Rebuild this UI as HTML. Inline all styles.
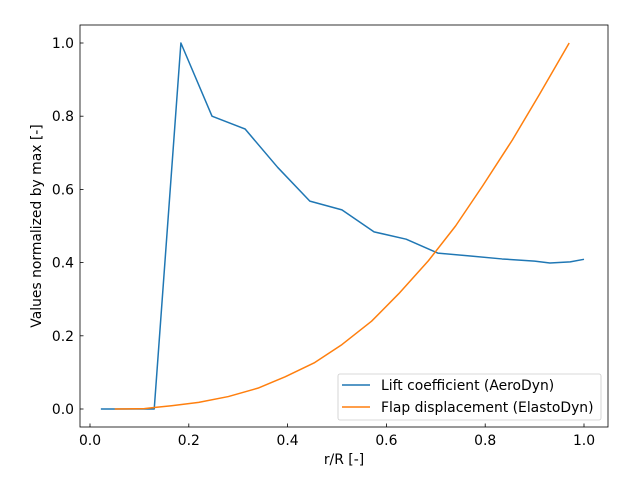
<!DOCTYPE html>
<html><head><meta charset="utf-8"><style>
body{margin:0;background:#fff}
svg{font-family:"DejaVu Sans","Liberation Sans",sans-serif}
</style></head><body>
<svg id="chart" width="640" height="480" viewBox="0 0 640 480" xmlns="http://www.w3.org/2000/svg">
<rect width="640" height="480" fill="#fff"/>
<g id="plot"></g>
</svg>
<script>
const liftX=[0.022,0.13,0.184,0.247,0.314,0.38,0.445,0.51,0.575,0.64,0.704,0.77,0.834,0.9,0.931,0.972,1.0];
const liftY=[0,0,1.0,0.80,0.765,0.66,0.568,0.544,0.484,0.464,0.426,0.418,0.41,0.404,0.399,0.402,0.409];
const flapX=[0.05,0.11,0.13,0.165,0.22,0.28,0.34,0.395,0.455,0.51,0.57,0.625,0.685,0.74,0.795,0.855,0.91,0.97];
const flapY=[0,0.001,0.004,0.009,0.018,0.034,0.057,0.088,0.127,0.176,0.24,0.315,0.405,0.5,0.61,0.735,0.86,1.0];
const xTicks=[0,0.2,0.4,0.6,0.8,1.0];
const yTicks=[0,0.2,0.4,0.6,0.8,1.0];
const xLabels=["0.0","0.2","0.4","0.6","0.8","1.0"];
const yLabels=["0.0","0.2","0.4","0.6","0.8","1.0"];

const NS="http://www.w3.org/2000/svg";
const g=document.getElementById('plot');
const L=80,R=608,T=25,B=427;
const FS=13.9;
const sx=v=>90+v*494;
const sy=v=>409-v*366;
function mk(tag,attrs,parent){const e=document.createElementNS(NS,tag);for(const k in attrs)e.setAttribute(k,attrs[k]);(parent||g).appendChild(e);return e;}

xTicks.forEach((t,i)=>{
  const l=mk('line',{x1:sx(t),x2:sx(t),y1:B,y2:B-3.5,stroke:'#000','stroke-width':0.8});
  
  
  const tx=mk('text',{x:sx(t),y:B+18,'font-size':FS,'text-anchor':'middle'});
  tx.textContent=xLabels[i];
  
  
});
yTicks.forEach((t,i)=>{
  const l=mk('line',{x1:L,x2:L+3.5,y1:sy(t),y2:sy(t),stroke:'#000','stroke-width':0.8});
  
  
  const tx=mk('text',{x:L-6,y:sy(t)+5,'font-size':FS,'text-anchor':'end'});
  tx.textContent=yLabels[i];
  
  
});

function line(xs,ys,color,name){
  const p=mk('polyline',{points:xs.map((x,i)=>sx(x)+','+sy(ys[i])).join(' '),fill:'none',stroke:color,'stroke-width':1.5,'stroke-linejoin':'round'});
  
  
}
line(liftX,liftY,'#1f77b4','lift-coefficient-line');
line(flapX,flapY,'#ff7f0e','flap-displacement-line');

const fr=mk('rect',{x:L,y:T,width:R-L,height:B-T,fill:'none',stroke:'#000','stroke-width':0.8});



const xt=mk('text',{x:(L+R)/2,y:464,'font-size':FS,'text-anchor':'middle'});
xt.textContent='r/R [-]';


const yt=mk('text',{x:0,y:0,'font-size':FS,'text-anchor':'middle',transform:'translate(41,226) rotate(-90)'});
yt.textContent='Values normalized by max [-]';



const lg=mk('g',{});


mk('rect',{x:338,y:374,width:263,height:46,rx:2,fill:'#fff','fill-opacity':0.8,stroke:'#ccc','stroke-width':0.8},lg);
const ents=[['Lift coefficient (AeroDyn)','#1f77b4',385],['Flap displacement (ElastoDyn)','#ff7f0e',407]];
ents.forEach(e=>{
  const eg=mk('g',{},lg);
  
  
  mk('line',{x1:342,x2:370,y1:e[2],y2:e[2],stroke:e[1],'stroke-width':1.5},eg);
  const t=mk('text',{x:381,y:e[2]+5,'font-size':FS},eg);
  t.textContent=e[0];
});
</script>
</body></html>
